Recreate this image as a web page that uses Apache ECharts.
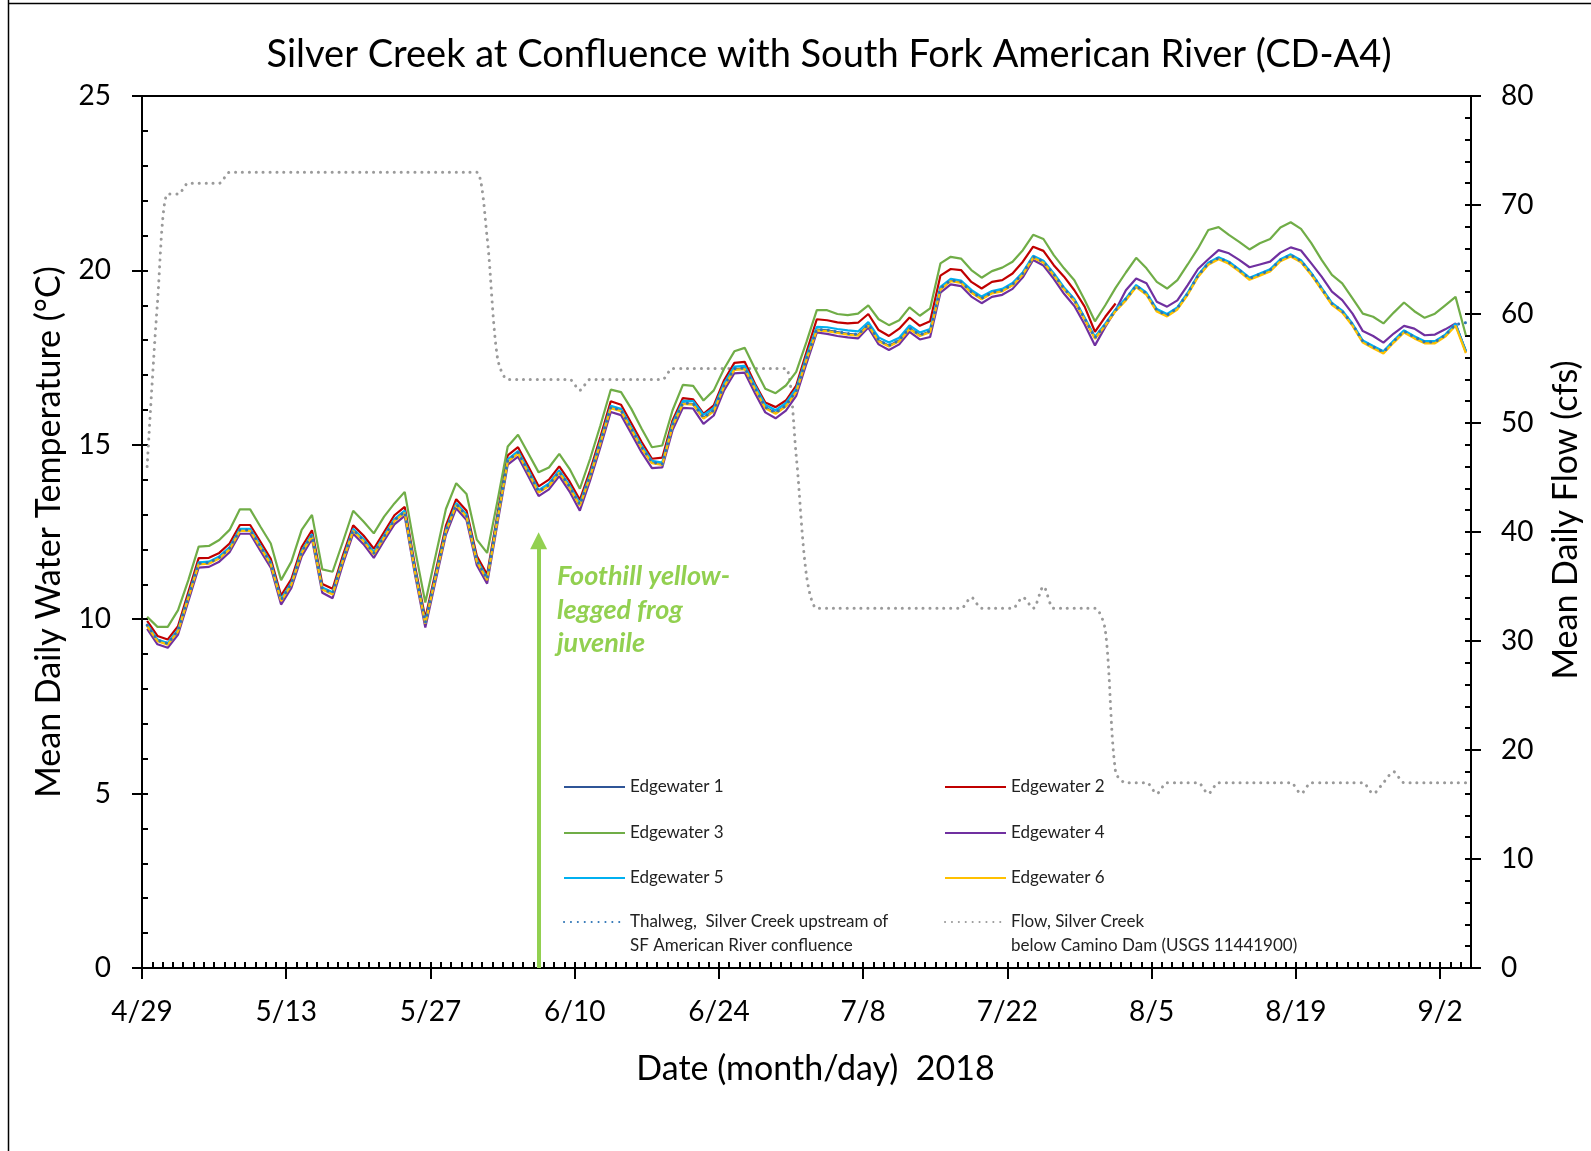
<!DOCTYPE html>
<html><head><meta charset="utf-8">
<script src="https://cdn.jsdelivr.net/npm/echarts@6/dist/echarts.min.js"></script>
<style>html,body{margin:0;padding:0;background:#fff}#c{width:1591px;height:1151px}</style>
</head><body><div id="c"></div><script>
// Day index 0 = 4/29/2018, last = 9/4/2018 (129 days)
const dayCount = 129;
const majorTickDays = [0,14,28,42,56,70,84,98,112,126];
const xTickLabels = ['4/29','5/13','5/27','6/10','6/24','7/8','7/22','8/5','8/19','9/2'];

const edgewater1 = [9.82,9.39,9.29,9.67,10.63,11.59,11.61,11.76,12.02,12.55,
12.55,12.07,11.59,10.54,11.01,11.92,12.40,10.87,10.73,11.69,
12.55,12.26,11.88,12.36,12.83,13.07,11.38,9.89,11.22,12.53,
13.29,12.96,11.67,11.14,12.86,14.54,14.77,14.22,13.65,13.84,
14.22,13.79,13.27,14.11,15.07,16.07,15.98,15.45,14.92,14.49,
14.44,15.55,16.19,16.17,15.77,15.98,16.69,17.17,17.19,16.62,
16.07,15.91,16.12,16.53,17.46,18.30,18.28,18.23,18.18,18.15,
18.44,17.99,17.84,17.99,18.34,18.14,18.25,19.47,19.71,19.66,
19.38,19.19,19.36,19.42,19.59,19.90,20.38,20.24,19.88,19.47,
19.14,18.61,18.06,18.44,18.85,19.17,19.55,19.33,18.85,18.71,
18.91,19.33,19.84,20.19,20.35,20.22,20.00,19.76,19.88,20.00,
20.29,20.43,20.26,19.90,19.47,19.04,18.82,18.44,17.96,17.80,
17.65,17.96,18.25,18.08,17.94,17.94,18.13,18.44,17.70];

const edgewater2 = [9.95,9.52,9.42,9.80,10.78,11.75,11.76,11.90,12.17,12.70,
12.70,12.22,11.73,10.68,11.15,12.07,12.55,11.01,10.87,11.83,
12.69,12.40,12.02,12.50,12.98,13.22,11.52,10.03,11.36,12.68,
13.44,13.11,11.81,11.28,13.00,14.70,14.93,14.38,13.81,14.00,
14.38,13.95,13.42,14.27,15.23,16.25,16.15,15.62,15.08,14.60,
14.63,15.70,16.34,16.30,15.89,16.13,16.85,17.35,17.38,16.75,
16.21,16.08,16.27,16.70,17.66,18.60,18.57,18.51,18.48,18.50,
18.75,18.29,18.12,18.33,18.65,18.41,18.54,19.85,20.04,20.01,
19.67,19.48,19.67,19.72,19.91,20.25,20.68,20.56,20.15,19.82,
19.43,18.96,18.24,18.67,19.05];

const edgewater3 = [10.07,9.78,9.78,10.26,11.12,12.08,12.10,12.27,12.56,13.15,
13.15,12.65,12.17,11.12,11.65,12.56,12.99,11.43,11.36,12.22,
13.11,12.80,12.46,12.94,13.32,13.65,12.00,10.48,11.82,13.16,
13.90,13.59,12.28,11.90,13.38,14.95,15.29,14.75,14.21,14.35,
14.74,14.31,13.74,14.60,15.56,16.58,16.51,16.03,15.46,14.93,
14.98,15.99,16.72,16.69,16.27,16.56,17.18,17.68,17.78,17.18,
16.61,16.48,16.70,17.09,17.95,18.86,18.86,18.75,18.72,18.76,
19.00,18.60,18.43,18.57,18.94,18.70,18.91,20.20,20.39,20.34,
20.01,19.79,19.98,20.08,20.25,20.58,21.02,20.90,20.44,20.06,
19.72,19.15,18.54,19.00,19.50,19.94,20.36,20.06,19.67,19.48,
19.72,20.17,20.63,21.16,21.24,21.02,20.82,20.60,20.78,20.90,
21.23,21.38,21.19,20.78,20.30,19.87,19.63,19.20,18.76,18.67,
18.48,18.79,19.08,18.83,18.64,18.76,19.00,19.24,18.14];

const edgewater4 = [9.72,9.28,9.18,9.56,10.52,11.48,11.50,11.65,11.92,12.45,
12.45,11.96,11.48,10.42,10.90,11.80,12.30,10.76,10.60,11.58,
12.45,12.15,11.76,12.25,12.72,12.96,11.27,9.76,11.10,12.42,
13.18,12.84,11.55,11.02,12.74,14.43,14.66,14.10,13.53,13.72,
14.10,13.66,13.11,13.98,14.94,15.94,15.85,15.32,14.78,14.33,
14.35,15.42,16.06,16.04,15.60,15.84,16.56,17.05,17.07,16.48,
15.93,15.76,15.98,16.40,17.33,18.22,18.18,18.12,18.08,18.05,
18.36,17.88,17.72,17.88,18.24,18.02,18.09,19.36,19.60,19.55,
19.25,19.06,19.24,19.30,19.47,19.80,20.30,20.14,19.76,19.33,
18.98,18.45,17.85,18.38,18.86,19.43,19.77,19.63,19.10,18.96,
19.14,19.58,20.04,20.32,20.58,20.49,20.30,20.09,20.17,20.25,
20.51,20.66,20.57,20.20,19.82,19.39,19.15,18.76,18.26,18.12,
17.93,18.19,18.41,18.33,18.14,18.16,18.31,18.48,17.66];

const edgewater5 = [9.85,9.42,9.32,9.70,10.66,11.63,11.65,11.80,12.06,12.59,
12.59,12.11,11.63,10.58,11.05,11.96,12.44,10.91,10.77,11.73,
12.59,12.30,11.92,12.40,12.87,13.11,11.42,9.93,11.26,12.57,
13.33,13.00,11.71,11.18,12.90,14.58,14.82,14.27,13.70,13.89,
14.27,13.84,13.32,14.16,15.12,16.12,16.03,15.50,14.97,14.54,
14.49,15.61,16.26,16.25,15.86,16.06,16.76,17.24,17.26,16.70,
16.15,15.99,16.20,16.61,17.54,18.38,18.37,18.32,18.28,18.25,
18.52,18.08,17.93,18.07,18.42,18.22,18.32,19.53,19.76,19.71,
19.44,19.25,19.41,19.47,19.64,19.95,20.42,20.28,19.92,19.51,
19.18,18.65,18.10,18.47,18.88,19.20,19.58,19.36,18.89,18.75,
18.94,19.36,19.87,20.22,20.38,20.25,20.03,19.79,19.91,20.03,
20.32,20.46,20.29,19.93,19.50,19.07,18.85,18.47,17.99,17.83,
17.68,17.99,18.28,18.11,17.97,17.97,18.16,18.47,17.68];

const edgewater6 = [9.80,9.37,9.27,9.65,10.61,11.57,11.59,11.74,12.00,12.53,
12.53,12.05,11.57,10.52,10.99,11.90,12.38,10.85,10.71,11.67,
12.53,12.24,11.86,12.34,12.81,13.05,11.36,9.87,11.20,12.51,
13.27,12.94,11.65,11.12,12.84,14.52,14.75,14.20,13.63,13.82,
14.20,13.77,13.25,14.09,15.05,16.05,15.96,15.43,14.90,14.47,
14.42,15.53,16.17,16.15,15.75,15.96,16.67,17.15,17.17,16.60,
16.05,15.89,16.10,16.51,17.44,18.28,18.26,18.21,18.16,18.13,
18.42,17.97,17.82,17.97,18.32,18.12,18.23,19.45,19.69,19.64,
19.36,19.17,19.34,19.40,19.57,19.88,20.36,20.22,19.86,19.45,
19.12,18.59,18.04,18.42,18.83,19.14,19.52,19.30,18.82,18.68,
18.88,19.30,19.81,20.16,20.32,20.19,19.97,19.73,19.85,19.97,
20.26,20.40,20.23,19.87,19.44,19.01,18.79,18.41,17.93,17.77,
17.62,17.93,18.22,18.05,17.91,17.91,18.10,18.41,17.63];

const thalweg = [9.83,9.40,9.30,9.68,10.64,11.60,11.62,11.77,12.03,12.56,
12.56,12.08,11.60,10.55,11.02,11.93,12.41,10.88,10.74,11.70,
12.56,12.27,11.89,12.37,12.84,13.08,11.39,9.90,11.23,12.54,
13.30,12.97,11.68,11.15,12.87,14.55,14.78,14.23,13.66,13.85,
14.23,13.80,13.28,14.12,15.08,16.08,15.99,15.46,14.93,14.50,
14.45,15.56,16.20,16.18,15.78,15.99,16.70,17.18,17.20,16.63,
16.08,15.92,16.13,16.54,17.47,18.31,18.29,18.24,18.19,18.16,
18.45,18.00,17.85,18.00,18.35,18.15,18.26,19.48,19.72,19.67,
19.39,19.20,19.37,19.43,19.60,19.91,20.39,20.25,19.89,19.48,
19.15,18.62,18.07,18.45,18.86,19.18,19.56,19.34,18.86,18.72,
18.92,19.34,19.85,20.20,20.36,20.23,20.01,19.77,19.89,20.01,
20.30,20.44,20.27,19.91,19.48,19.05,18.83,18.45,17.97,17.81,
17.66,17.97,18.26,18.09,17.95,17.95,18.14,18.45,18.50];

const flowCfs = [46,61,71,71,72,72,72,72,73,73,
73,73,73,73,73,73,73,73,73,73,
73,73,73,73,73,73,73,73,73,73,
73,73,73,67,56,54,54,54,54,54,
54,54,53,54,54,54,54,54,54,54,
54,55,55,55,55,55,55,55,55,55,
55,55,55,47,36,33,33,33,33,33,
33,33,33,33,33,33,33,33,33,33,
34,33,33,33,33,34,33,35,33,33,
33,33,33,31,18,17,17,17,16,17,
17,17,17,16,17,17,17,17,17,17,
17,17,16,17,17,17,17,17,17,16,
17,18,17,17,17,17,17,17,17];

const seriesNames = ['Edgewater 1','Edgewater 2','Edgewater 3','Edgewater 4','Edgewater 5','Edgewater 6',
  'Thalweg,  Silver Creek upstream of\nSF American River confluence',
  'Flow, Silver Creek\nbelow Camino Dam (USGS 11441900)'];
const seriesColors = ['#2F5597','#C00000','#70AD47','#7030A0','#00B0F0','#FFC000','#2E75B6','#9A9A9A'];
const arrowDay = 38.5, arrowTopTemp = 12.25;

const FONT = 'Lato, "Open Sans", sans-serif';
const toXY = arr => arr.map((v, i) => [i + 0.5, v]);

const tempArrays = [edgewater1, edgewater2, edgewater3, edgewater4, edgewater5, edgewater6];
const series = tempArrays.map((arr, i) => ({
  name: seriesNames[i], type: 'line', xAxisIndex: 0, yAxisIndex: 0,
  data: toXY(arr), symbol: 'none', color: seriesColors[i],
  lineStyle: { color: seriesColors[i], width: 2.2 }, z: 3, animation: false
}));
series.push({
  name: seriesNames[6], type: 'line', xAxisIndex: 0, yAxisIndex: 0,
  data: toXY(thalweg), symbol: 'none', color: seriesColors[6],
  lineStyle: { color: seriesColors[6], width: 3, type: [0.1, 6.8], cap: 'round' }, z: 4, animation: false
});
series.push({
  name: seriesNames[7], type: 'line', xAxisIndex: 0, yAxisIndex: 2,
  data: toXY(flowCfs), symbol: 'none', color: seriesColors[7], smooth: 0.3,
  lineStyle: { color: seriesColors[7], width: 3, type: [0.1, 6.8], cap: 'round' }, z: 2, animation: false
});
series.push({
  type: 'line', xAxisIndex: 0, yAxisIndex: 0, data: [], animation: false,
  markLine: {
    silent: true, symbol: ['none', 'triangle'], symbolSize: [17, 17],
    lineStyle: { color: '#92D050', width: 4, type: 'solid' }, label: { show: false },
    data: [[{ coord: [arrowDay, 0] }, { coord: [arrowDay, arrowTopTemp] }]]
  }
});

// legends: one per item
const legendPos = [
  [563, 787], [944, 787], [563, 833], [944, 833], [563, 878], [944, 878], [563, 922], [944, 922]
];
const legends = seriesNames.map((n, i) => {
  const multi = n.indexOf('\n') >= 0;
  return {
    data: [n], left: legendPos[i][0], top: legendPos[i][1] - (multi ? 36 : 12), padding: 0,
    itemWidth: 61, itemHeight: 24, selectedMode: false,
    itemStyle: { opacity: 0 },
    formatter: multi ? (name => '\n' + name) : undefined,
    textStyle: { fontFamily: FONT, fontSize: 17, color: '#222', lineHeight: 24 }
  };
});

const axisLineStyle = { color: '#000', width: 2 };
const option = {
  animation: false,
  backgroundColor: '#fff',
  title: {
    text: 'Silver Creek at Confluence with South Fork American River (CD-A4)',
    left: 824, top: 31, textAlign: 'center',
    textStyle: { fontFamily: FONT, fontSize: 38, fontWeight: 'normal', color: '#000' }
  },
  legend: legends,
  grid: { left: 142, right: 119, top: 96, bottom: 183, show: true, borderColor: '#000', borderWidth: 2, backgroundColor: 'transparent' },
  xAxis: [
    { type: 'value', min: 0, max: dayCount, position: 'bottom',
      axisLine: { show: true, lineStyle: axisLineStyle },
      axisTick: { show: true, inside: false, length: 11, lineStyle: axisLineStyle, customValues: majorTickDays },
      axisLabel: { customValues: majorTickDays, formatter: v => xTickLabels[majorTickDays.indexOf(v)] || '',
        margin: 30, fontSize: 28, color: '#000', fontFamily: FONT },
      splitLine: { show: false },
      name: 'Date (month/day)  2018', nameLocation: 'middle', nameGap: 84,
      nameTextStyle: { fontFamily: FONT, fontSize: 34, color: '#000', padding: [0, 0, 0, 18] } },
    { type: 'value', min: 0, max: dayCount, interval: 1, position: 'bottom',
      axisLine: { show: false }, axisTick: { show: true, inside: true, length: 6, lineStyle: axisLineStyle },
      axisLabel: { show: false }, splitLine: { show: false } }
  ],
  yAxis: [
    { type: 'value', min: 0, max: 25, interval: 5, position: 'left',
      axisLine: { show: true, lineStyle: axisLineStyle },
      axisTick: { show: true, inside: false, length: 10, lineStyle: axisLineStyle },
      axisLabel: { margin: 31, fontSize: 28, color: '#000', fontFamily: FONT },
      splitLine: { show: false },
      name: 'Mean Daily Water Temperature (°C)', nameLocation: 'middle', nameGap: 76, nameRotate: 90,
      nameTextStyle: { fontFamily: FONT, fontSize: 34, color: '#000' } },
    { type: 'value', min: 0, max: 25, interval: 1, position: 'left',
      axisLine: { show: false }, axisTick: { show: true, inside: true, length: 6, lineStyle: axisLineStyle },
      axisLabel: { show: false }, splitLine: { show: false } },
    { type: 'value', min: 0, max: 80, interval: 10, position: 'right',
      axisLine: { show: true, lineStyle: axisLineStyle },
      axisTick: { show: true, inside: false, length: 10, lineStyle: axisLineStyle },
      axisLabel: { margin: 30, fontSize: 28, color: '#000', fontFamily: FONT },
      splitLine: { show: false },
      name: 'Mean Daily Flow (cfs)', nameLocation: 'middle', nameGap: 78, nameRotate: 90,
      nameTextStyle: { fontFamily: FONT, fontSize: 34, color: '#000', padding: [0, 0, 0, 24] } },
    { type: 'value', min: 0, max: 80, interval: 2, position: 'right',
      axisLine: { show: false }, axisTick: { show: true, inside: true, length: 6, lineStyle: axisLineStyle },
      axisLabel: { show: false }, splitLine: { show: false } }
  ],
  graphic: [
    { type: 'text', left: 557, top: 560, z: 10,
      style: { text: 'Foothill yellow-\nlegged frog\njuvenile', font: 'italic bold 27px ' + FONT, fill: '#92D050', lineHeight: 33.5 } },
    { type: 'line', z: 10, shape: { x1: 8.5, y1: 0, x2: 8.5, y2: 1151 }, style: { stroke: '#000', lineWidth: 1.5 } },
    { type: 'line', z: 10, shape: { x1: 8.5, y1: 3.5, x2: 1591, y2: 3.5 }, style: { stroke: '#000', lineWidth: 1.5 } }
  ],
  series: series
};
const chart = echarts.init(document.getElementById('c'));
chart.setOption(option);
</script></body></html>
